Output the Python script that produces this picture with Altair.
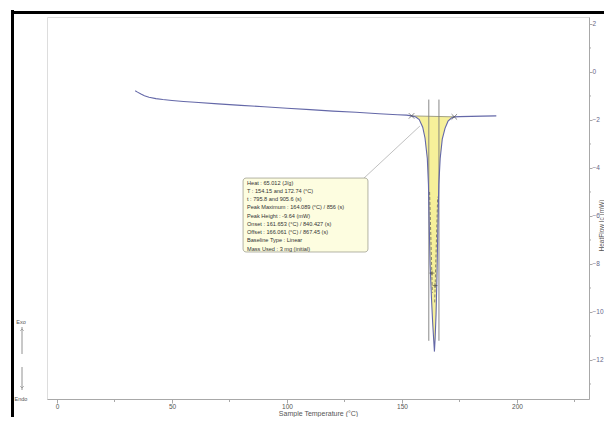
import altair as alt
import pandas as pd
import numpy as np

# ---- data ----
temps = [34, 35, 36.5, 38, 40, 43, 46, 50, 55, 60, 70, 80, 90, 100, 110, 120, 130, 140,
         148, 152, 154.15, 156, 157.5, 159, 160, 161, 161.5, 161.8, 162.2, 162.8, 163.3,
         163.8, 164.1, 164.4, 164.8, 165.2, 165.6, 166.0, 166.6, 167.5, 168.7, 170, 171.5,
         172.74, 175, 180, 185, 191]
heat = [-0.78, -0.84, -0.92, -0.99, -1.05, -1.11, -1.15, -1.19, -1.23, -1.26, -1.33, -1.39,
        -1.45, -1.51, -1.57, -1.63, -1.68, -1.74, -1.78, -1.80, -1.83, -1.88, -1.98, -2.3,
        -2.75, -3.6, -4.7, -6.2, -8.0, -9.4, -10.4, -11.2, -11.65, -11.1, -10.1, -8.5, -6.4,
        -4.7, -3.6, -2.8, -2.35, -2.05, -1.92, -1.87, -1.86, -1.85, -1.84, -1.83]

limit_T = [154.15, 172.74]          # integration limits
limit_v = [-1.83, -1.87]
onset_T = 161.653
offset_T = 166.061
vline_top = -1.15
vline_bottom = -11.2
tangent_left_T = [162.0, 163.2]
tangent_left_v = [-5.0, -9.2]
tangent_right_T = [165.5, 164.2]
tangent_right_v = [-5.2, -9.6]
cross_T = [163.04, 164.35]
cross_v = [-8.38, -8.9]

info_lines = [
    "Heat : 65.012 (J/g)",
    "T : 154.15 and 172.74 (°C)",
    "t : 795.8 and 905.6 (s)",
    "Peak Maximum : 164.089 (°C) / 856 (s)",
    "Peak Height : -9.64 (mW)",
    "Onset : 161.653 (°C) / 840.427 (s)",
    "Offset : 166.061 (°C) / 867.45 (s)",
    "Baseline Type : Linear",
    "Mass Used : 3 mg (initial)",
]
box_T = [80.9, 135.2]
box_v = [-4.42, -7.5]
text_T = 82.6
text_v0 = -4.62
text_step = 0.342
leader_T = [131.7, 157.8]
leader_v = [-4.58, -2.25]

x_major = [0, 50, 100, 150, 200]
x_minor = [25, 75, 125, 175, 225]
y_major = [-12, -10, -8, -6, -4, -2, 0, 2]
y_minor = [-13, -11, -9, -7, -5, -3, -1, 1]

X_DOM = [-4.35, 231.3]
Y_DOM = [-13.625, 2.29]

curve_color = "#6468a8"
fill_color = "#f6f09a"
axis_gray = "#a8a8a8"
font = "Liberation Sans"

W, H = 542, 382

xs = alt.Scale(domain=X_DOM, nice=False, zero=False)
ys = alt.Scale(domain=Y_DOM, nice=False, zero=False)

df = pd.DataFrame({"T": temps, "v": heat})
area_df = df[(df["T"] >= limit_T[0]) & (df["T"] <= limit_T[1])].copy()
area_df["b"] = np.interp(area_df["T"], limit_T, limit_v)

x_axis = alt.Axis(
    values=x_major, tickSize=4,
    domainColor=axis_gray, tickColor=axis_gray, grid=False,
    labelFont=font, labelFontSize=6.5, labelColor="#555555", labelPadding=0,
    title="Sample Temperature (°C)", titleFont=font, titleFontSize=7,
    titleFontWeight="normal", titleColor="#555555",
    titleY=16, titleBaseline="alphabetic",
)
y_axis = alt.Axis(
    orient="right", values=y_major, tickSize=3,
    domainColor=axis_gray, tickColor=axis_gray, grid=False, labelOverlap=False,
    labelFont=font, labelFontSize=6.5, labelColor="#666688", labelPadding=0,
    title="HeatFlow Ic (mW)", titleFont=font, titleFontSize=6.5, titleAngle=270,
    titleFontWeight="normal", titleColor="#555555",
    titleX=12.5, titleY=208, titleBaseline="middle", titleAlign="center",
)

area = alt.Chart(area_df).mark_area(color=fill_color, opacity=1).encode(
    x=alt.X("T:Q", scale=xs, axis=x_axis),
    y=alt.Y("v:Q", scale=ys, axis=y_axis),
    y2="b:Q",
)

# minor ticks
xminor = alt.Chart(pd.DataFrame({"T": x_minor})).mark_rule(color=axis_gray, strokeWidth=1).encode(
    x=alt.X("T:Q", scale=xs), y=alt.value(H), y2=alt.value(H + 3))
yminor = alt.Chart(pd.DataFrame({"v": y_minor})).mark_rule(color=axis_gray, strokeWidth=1).encode(
    y=alt.Y("v:Q", scale=ys), x=alt.value(W), x2=alt.value(W + 2))

base_top = alt.Chart(pd.DataFrame({"T": limit_T, "v": limit_v})).mark_line(
    color="#8a8a70", strokeWidth=0.8).encode(x=alt.X("T:Q", scale=xs), y=alt.Y("v:Q", scale=ys))

vlines = alt.Chart(pd.DataFrame({"T": [onset_T, offset_T], "y1": [vline_top] * 2,
                                 "y2": [vline_bottom] * 2})).mark_rule(
    color="#7a7a7a", strokeWidth=0.9).encode(
    x=alt.X("T:Q", scale=xs), y=alt.Y("y1:Q", scale=ys), y2="y2:Q")

tang = pd.DataFrame({
    "T": tangent_left_T + tangent_right_T,
    "v": tangent_left_v + tangent_right_v,
    "g": ["l", "l", "r", "r"],
})
tangents = alt.Chart(tang).mark_line(color="#555555", strokeWidth=0.7, strokeDash=[3, 2]).encode(
    x=alt.X("T:Q", scale=xs), y=alt.Y("v:Q", scale=ys), detail="g:N")

curve = alt.Chart(df).mark_line(color=curve_color, strokeWidth=1.1).encode(
    x=alt.X("T:Q", scale=xs), y=alt.Y("v:Q", scale=ys))

xmarks = alt.Chart(pd.DataFrame({"T": limit_T, "v": limit_v})).mark_point(
    shape="M-1,-1L1,1M-1,1L1,-1", filled=False, color="#444444", size=30, strokeWidth=0.9).encode(
    x=alt.X("T:Q", scale=xs), y=alt.Y("v:Q", scale=ys))

plus = alt.Chart(pd.DataFrame({"T": cross_T, "v": cross_v})).mark_point(
    shape="M-1,0L1,0M0,-1L0,1", filled=False, color="#333333", size=25, strokeWidth=0.8).encode(
    x=alt.X("T:Q", scale=xs), y=alt.Y("v:Q", scale=ys))

leader = alt.Chart(pd.DataFrame({"T": leader_T, "v": leader_v})).mark_line(
    color="#b0b0b0", strokeWidth=0.8).encode(x=alt.X("T:Q", scale=xs), y=alt.Y("v:Q", scale=ys))

box = alt.Chart(pd.DataFrame({"x1": [box_T[0]], "x2": [box_T[1]], "y1": [box_v[0]], "y2": [box_v[1]]})).mark_rect(
    fill="#fdfde0", stroke="#a0a090", strokeWidth=0.8, cornerRadius=3).encode(
    x=alt.X("x1:Q", scale=xs), x2="x2:Q", y=alt.Y("y1:Q", scale=ys), y2="y2:Q")

txt_df = pd.DataFrame({"line": info_lines, "i": list(range(len(info_lines)))})
txt_df["T"] = text_T
txt_df["v"] = text_v0 - txt_df["i"] * text_step
texts = alt.Chart(txt_df).mark_text(
    align="left", baseline="middle", font=font, fontSize=5.6, color="#333333").encode(
    x=alt.X("T:Q", scale=xs), y=alt.Y("v:Q", scale=ys), text="line:N")

# ---- decorations outside the plot (pixel positions relative to plot origin) ----
one = pd.DataFrame({"a": [0]})
frame_left = alt.Chart(one).mark_rule(color="black", strokeWidth=3).encode(
    x=alt.value(-34.5), y=alt.value(-7), y2=alt.value(420))
frame_top = alt.Chart(one).mark_rule(color="black", strokeWidth=3).encode(
    x=alt.value(-36), x2=alt.value(570), y=alt.value(-4.5))

exo_txt = alt.Chart(one).mark_text(
    font=font, fontSize=5.5, color="#555555", align="center", baseline="middle", text="Exo").encode(
    x=alt.value(-26), y=alt.value(305))
endo_txt = alt.Chart(one).mark_text(
    font=font, fontSize=5.5, color="#555555", align="center", baseline="middle", text="Endo").encode(
    x=alt.value(-26), y=alt.value(382))
arrow_up = alt.Chart(one).mark_rule(color="#777777", strokeWidth=0.8).encode(
    x=alt.value(-25), y=alt.value(310), y2=alt.value(337))
arrow_dn = alt.Chart(one).mark_rule(color="#777777", strokeWidth=0.8).encode(
    x=alt.value(-25), y=alt.value(350), y2=alt.value(373))
head_up = alt.Chart(one).mark_point(
    shape="M-1,1L0,0L1,1", filled=False, color="#777777", size=14, strokeWidth=0.8).encode(
    x=alt.value(-25), y=alt.value(312))
head_dn = alt.Chart(one).mark_point(
    shape="M-1,-1L0,0L1,-1", filled=False, color="#777777", size=14, strokeWidth=0.8).encode(
    x=alt.value(-25), y=alt.value(371))

chart = alt.layer(
    area, xminor, yminor, base_top, vlines, tangents, curve, xmarks, plus, leader, box, texts,
    frame_left, frame_top, exo_txt, endo_txt, arrow_up, arrow_dn, head_up, head_dn,
).properties(
    width=W, height=H,
    autosize=alt.AutoSizeParams(type="none"),
    padding={"left": 39, "top": 9, "right": 15, "bottom": 18},
).configure_view(stroke=None).configure(background="white")

chart.save("out.html", embed_options={"renderer": "svg", "actions": False})
